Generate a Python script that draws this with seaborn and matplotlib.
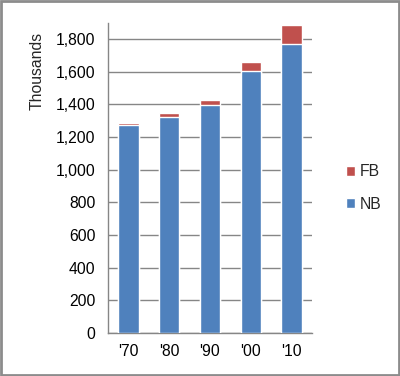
import pandas as pd
import seaborn as sns
import matplotlib.pyplot as plt
from matplotlib.patches import Rectangle, Patch

# values (thousands)
decades = ["'70", "'80", "'90", "'00", "'10"]
nb = [1271, 1325, 1399, 1603, 1769]
fb = [13, 20, 28, 57, 117]

df = pd.DataFrame({'decade': decades, 'NB': nb, 'FB': fb})
df['total'] = df['NB'] + df['FB']

blue = '#4F81BD'
red = '#C0504D'
grid = '#868686'
fs = 11.3

sns.set_style('white')
plt.rcParams['font.family'] = ['Liberation Sans', 'DejaVu Sans']

fig = plt.figure(figsize=(4, 3.76), dpi=100)
ax = fig.add_axes([0.27, 0.1144, 0.51, 0.825])

# stacked: total in red underneath, NB in blue on top of it
sns.barplot(data=df, x='decade', y='total', color=red, width=0.5, saturation=1, ax=ax, zorder=3)
sns.barplot(data=df, x='decade', y='NB', color=blue, width=0.5, saturation=1, ax=ax, zorder=3)

ax.set_xlim(-0.5, 4.5)
ax.set_ylim(0, 1900)
ax.set_yticks(range(0, 1801, 200))
ax.set_yticklabels([f'{v:,}' for v in range(0, 1801, 200)])
ax.yaxis.grid(True, color=grid, linewidth=1)
ax.set_axisbelow(True)
ax.set_xlabel('')
ax.set_ylabel('')
for s in ['top', 'right']:
    ax.spines[s].set_visible(False)
for s in ['left', 'bottom']:
    ax.spines[s].set_color(grid)
    ax.spines[s].set_linewidth(1)
ax.tick_params(axis='both', length=0, labelsize=fs, colors='black')
ax.tick_params(axis='y', pad=9)
ax.tick_params(axis='x', pad=8)

fig.text(37 / 400, 1 - 71 / 376, 'Thousands', rotation=90, ha='center', va='center', fontsize=fs)

handles = [Patch(facecolor=red, label='FB'), Patch(facecolor=blue, label='NB')]
fig.legend(handles=handles, loc='center left', bbox_to_anchor=(0.845, 1 - 188 / 376),
           frameon=False, fontsize=fs, handlelength=0.6, handleheight=0.6,
           handletextpad=0.3, labelspacing=1.1, borderpad=0)

fig.add_artist(Rectangle((0.002, 0.002), 0.996, 0.995, transform=fig.transFigure,
                         fill=False, edgecolor='#8c8c8c', linewidth=2))

fig.savefig('out.png', dpi=100)
